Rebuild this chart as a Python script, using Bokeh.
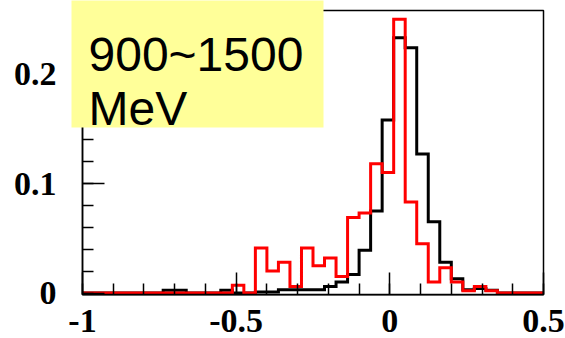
import numpy as np
from bokeh.plotting import figure
from bokeh.models import FixedTicker, PrintfTickFormatter, Label, Range1d, BoxAnnotation
from bokeh.embed import file_html
from bokeh.resources import INLINE

# Histogram binning: 40 equal bins between -1 and 0.5
n_bins = 40
bin_lo, bin_hi = -1.0, 0.5

# Normalised bin contents (fraction of entries per bin)
black_counts = [0, 0, 0, 0, 0, 0, 0, 0.0025, 0.0025, 0,
                0, 0, 0.0025, 0, 0, 0.001, 0.001, 0.003, 0.003, 0.003,
                0.003, 0.006, 0.010, 0.017, 0.039, 0.075, 0.158, 0.233, 0.224, 0.127,
                0.065, 0.028, 0.013, 0.003, 0.004, 0.0025, 0, 0, 0, 0]
red_counts = [0, 0, 0, 0, 0, 0, 0, 0, 0, 0,
              0, 0, 0, 0.007, 0, 0.041, 0.020, 0.028, 0.006, 0.041,
              0.025, 0.032, 0.015, 0.069, 0.073, 0.118, 0.110, 0.250, 0.083, 0.045,
              0.010, 0.023, 0.010, 0.002, 0.006, 0.002, 0, 0, 0, 0]

x_major = [-1, -0.5, 0, 0.5]
y_major = [0, 0.1, 0.2]
y_top = 0.258
box_lines = ["900~1500", "MeV"]

edges = np.linspace(bin_lo, bin_hi, n_bins + 1)


def step_outline(values):
    xs, ys = [edges[0]], [0.0]
    for i, v in enumerate(values):
        xs += [edges[i], edges[i + 1]]
        ys += [v, v]
    xs.append(edges[-1])
    ys.append(0.0)
    return xs, ys


# Canvas layout (pixels): the plotting frame fills the canvas and the axes
# are pinned inside it, so the key box can overhang the axes.
W, H = 565, 338
ax_left_px, ax_right_px = 82, 543
zero_px = 292.5
px_per_y = 1095.0
px_per_x = (ax_right_px - ax_left_px) / (bin_hi - bin_lo)


def px_x(px):
    return bin_lo + (px - ax_left_px) / px_per_x


def px_y(py):
    return (zero_px - py) / px_per_y


p = figure(width=W, height=H, output_backend="svg", toolbar_location=None,
           x_range=Range1d(px_x(0), px_x(W)), y_range=Range1d(px_y(H), px_y(0)),
           min_border=0)
p.background_fill_color = "white"
p.border_fill_color = "white"
p.outline_line_color = None
p.xgrid.visible = False
p.ygrid.visible = False

bx, by = step_outline(black_counts)
rx, ry = step_outline(red_counts)
p.line(bx, by, line_color="black", line_width=3, line_join="miter")
p.line(rx, ry, line_color="#ff0000", line_width=3, line_join="miter")

y_floor = -0.0015
x_minor = [round(v, 2) for v in np.arange(-1.0, 0.5001, 0.1)]
y_minor = [round(v, 2) for v in np.arange(0.0, 0.2601, 0.02)]
p.xaxis.ticker = FixedTicker(ticks=x_major, minor_ticks=x_minor)
p.yaxis.ticker = FixedTicker(ticks=y_major, minor_ticks=y_minor)
p.xaxis.fixed_location = y_floor
p.yaxis.fixed_location = bin_lo
p.xaxis.bounds = (bin_lo, bin_hi)
p.yaxis.bounds = (y_floor, y_top)
for ax in (p.xaxis, p.yaxis):
    ax.formatter = PrintfTickFormatter(format="%g")
    ax.axis_line_color = "black"
    ax.axis_line_width = 1.5
    ax.major_tick_in = 22
    ax.major_tick_out = 0
    ax.minor_tick_in = 11
    ax.minor_tick_out = 0
    ax.major_tick_line_width = 1.5
    ax.minor_tick_line_width = 1.5
    ax.major_label_text_font = "Liberation Serif"
    ax.major_label_text_font_style = "bold"
    ax.major_label_text_font_size = "34px"
    ax.major_label_text_color = "black"
p.xaxis.major_label_standoff = 15
p.yaxis.major_label_standoff = 26

# frame around the histogram area
p.add_layout(BoxAnnotation(left=bin_lo, right=bin_hi, bottom=y_floor, top=y_top,
                           fill_alpha=0, line_color="black", line_alpha=1.0,
                           line_width=1.5))

# yellow key box with the energy range
p.add_layout(BoxAnnotation(left=px_x(71), right=px_x(323), bottom=px_y(127), top=px_y(-5),
                           fill_color="#ffff99", fill_alpha=1.0, line_color=None))
for text, base_px in zip(box_lines, (54, 108)):
    p.add_layout(Label(x=px_x(88), y=px_y(base_px), text=text,
                       text_font="Liberation Sans", text_font_size="48px",
                       text_color="black", text_align="left",
                       text_baseline="alphabetic"))

open("out.html", "w").write(file_html(p, INLINE))
